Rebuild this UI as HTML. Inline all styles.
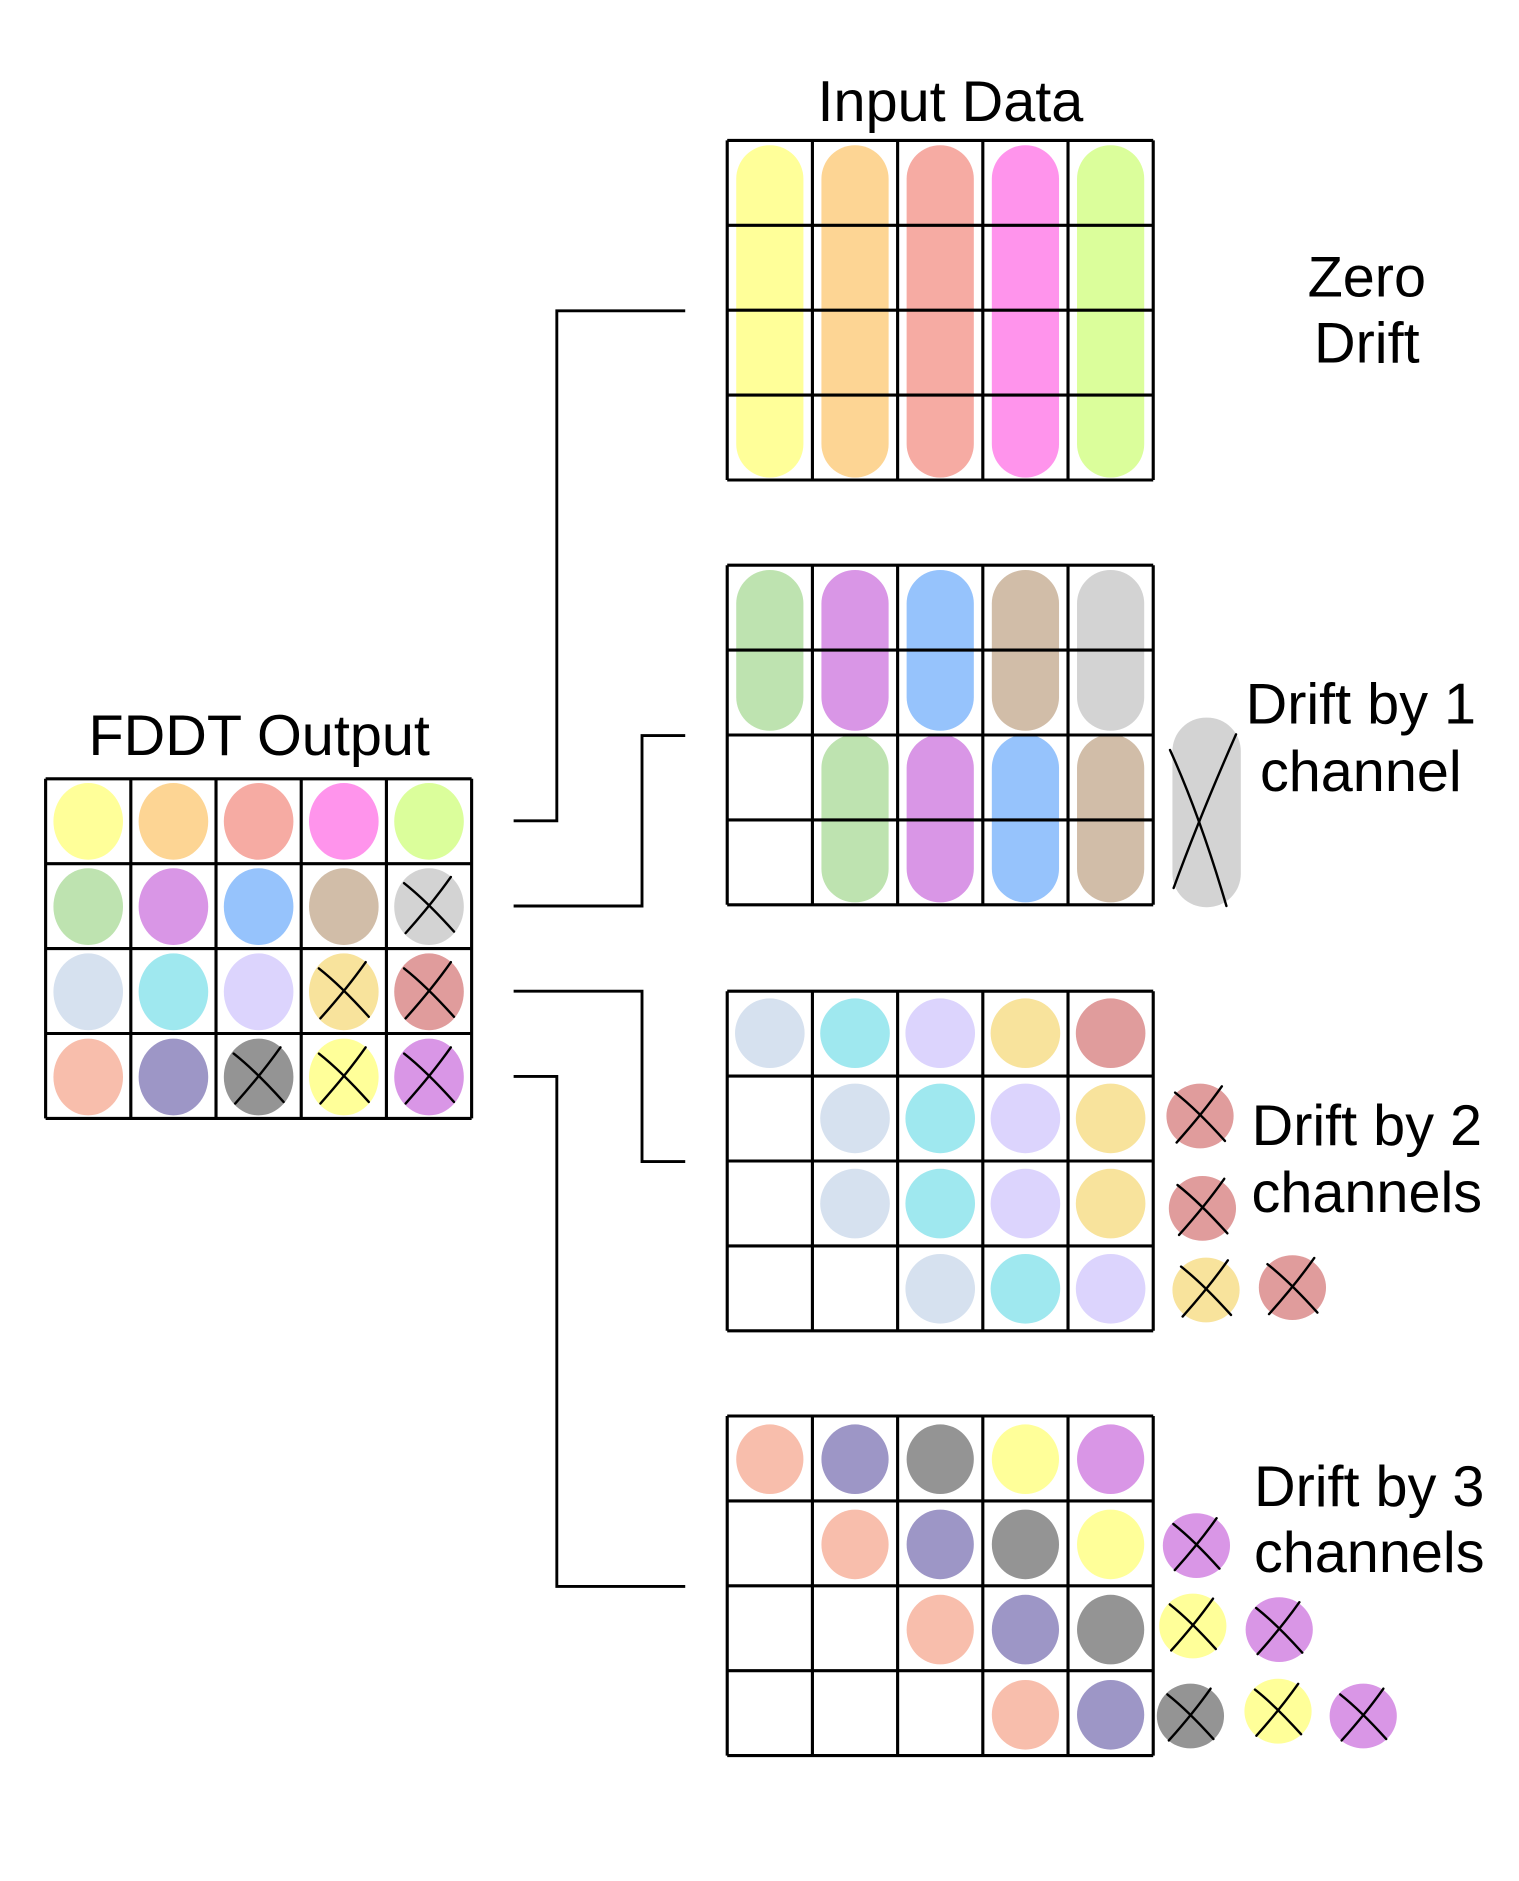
<!DOCTYPE html>
<html><head><meta charset="utf-8"><style>
html,body{margin:0;padding:0;background:#fff;}
svg{display:block;}
text{font-family:"Liberation Sans",Arial,sans-serif;fill:#000;}
</style></head><body>
<svg id="s" width="1519" height="1881" viewBox="0 0 1265.8 1567.5" xmlns="http://www.w3.org/2000/svg">
<g id="blobs"></g>
<g id="grids" fill="none" stroke="#000" stroke-width="2.6"></g>
<g id="marks" fill="none" stroke="#000" stroke-width="2" stroke-linecap="round"></g>
<g fill="none" stroke="#000" stroke-width="2.4">
<polyline points="428,684 464,684 464,259 571,259"/>
<polyline points="428,755 535,755 535,613 571,613"/>
<polyline points="428,826 535,826 535,968 571,968"/>
<polyline points="428,897 464,897 464,1322 571,1322"/>
</g>
<text x="792" y="101" font-size="48" text-anchor="middle">Input Data</text>
<text x="216" y="629" font-size="48" text-anchor="middle">FDDT Output</text>
<text x="1139" y="247" font-size="48" text-anchor="middle">Zero</text>
<text x="1139" y="302" font-size="48" text-anchor="middle">Drift</text>
<text x="1134" y="603" font-size="48" text-anchor="middle">Drift by 1</text>
<text x="1134" y="659" font-size="48" text-anchor="middle">channel</text>
<text x="1139" y="954" font-size="48" text-anchor="middle">Drift by 2</text>
<text x="1139" y="1010" font-size="48" text-anchor="middle">channels</text>
<text x="1141" y="1255" font-size="48" text-anchor="middle">Drift by 3</text>
<text x="1141" y="1310" font-size="48" text-anchor="middle">channels</text>
</svg>
<script>
var NS="http://www.w3.org/2000/svg";
function el(p,t,a){var e=document.createElementNS(NS,t);for(var k in a)e.setAttribute(k,a[k]);document.getElementById(p).appendChild(e);return e;}
var C={Y:"#ffff99",O:"#fdd594",S:"#f6aba3",P:"#ff94ec",L:"#dbfe9b",G:"#bee3b0",U:"#d996e6",B:"#96c3fc",T:"#d1bda8",R:"#d3d3d3",
lb:"#d6e1ef",cy:"#9fe8ef",lv:"#dcd4fd",lo:"#f8e39c",ro:"#e09c9c",pe:"#f8beac",sl:"#9d96c6",dg:"#949494"};
function blob(cx,cy,rx,ry,c){el("blobs","ellipse",{cx:cx,cy:cy,rx:rx,ry:ry,fill:c});}
function X(cx,cy,r){el("marks","path",{d:"M"+(cx-r*0.8)+","+(cy-r*0.75)+" Q"+(cx-r*0.1)+","+(cy-r*0.2)+" "+(cx+r*0.8)+","+(cy+r*0.8)});
el("marks","path",{d:"M"+(cx+r*0.7)+","+(cy-r*0.95)+" Q"+(cx+r*0.1)+","+(cy-r*0.1)+" "+(cx-r*0.75)+","+(cy+r*0.85)});}
function grid(x,y){for(var i=0;i<=5;i++)el("grids","line",{x1:x+71*i,y1:y,x2:x+71*i,y2:y+283});
for(var j=0;j<=4;j++)el("grids","line",{x1:x,y1:y+70.75*j,x2:x+355,y2:y+70.75*j});}
function cx(x,k){return x+35.5+71*k;}
var F=[["Y","O","S","P","L"],["G","U","B","T","R"],["lb","cy","lv","lo","ro"],["pe","sl","dg","Y","U"]];
var FX=[[0,0,0,0,0],[0,0,0,0,1],[0,0,0,1,1],[0,0,1,1,1]];
for(var r=0;r<4;r++)for(var k=0;k<5;k++){var X0=cx(38,k),Y0=684.5+71*r;blob(X0,Y0,29,32,C[F[r][k]]);if(FX[r][k])X(X0,Y0,26);}
grid(38,649);
var g1=["Y","O","S","P","L"];
for(var k=0;k<5;k++)el("blobs","rect",{x:cx(606,k)-28,y:121,width:56,height:277,rx:28,fill:C[g1[k]]});
grid(606,117);
var g2=["G","U","B","T","R"];
for(var k=0;k<5;k++)el("blobs","rect",{x:cx(606,k)-28,y:475,width:56,height:134,rx:28,fill:C[g2[k]]});
for(var k=1;k<5;k++)el("blobs","rect",{x:cx(606,k)-28,y:612,width:56,height:140,rx:28,fill:C[g2[k-1]]});
grid(606,471);
el("blobs","rect",{x:977,y:598,width:57,height:158,rx:28,fill:C.R});
el("marks","path",{d:"M975,625 Q1000,680 1022,755"});
el("marks","path",{d:"M1030,612 Q1000,680 978,740"});
var g3=["lb","cy","lv","lo","ro"];
for(var r=0;r<4;r++)for(var k=0;k<5;k++){var idx=(r==0)?k:(r<3?k-1:k-2);if(idx<0)continue;blob(cx(606,k),861+71*r,29,29,C[g3[idx]]);}
grid(606,826);
[[1000,930,"ro"],[1002,1007,"ro"],[1005,1075,"lo"],[1077,1073,"ro"]].forEach(function(a){blob(a[0],a[1],28,27,C[a[2]]);X(a[0],a[1],26);});
var g4=["pe","sl","dg","Y","U"];
for(var r=0;r<4;r++)for(var k=0;k<5;k++){var idx=k-r;if(idx<0)continue;blob(cx(606,k),1216+71*r,28,29,C[g4[idx]]);}
grid(606,1180);
[[997,1288,"U"],[994,1355,"Y"],[1066,1358,"U"],[992,1430,"dg"],[1065,1426,"Y"],[1136,1430,"U"]].forEach(function(a){blob(a[0],a[1],28,27,C[a[2]]);X(a[0],a[1],24);});
</script>
</body></html>
